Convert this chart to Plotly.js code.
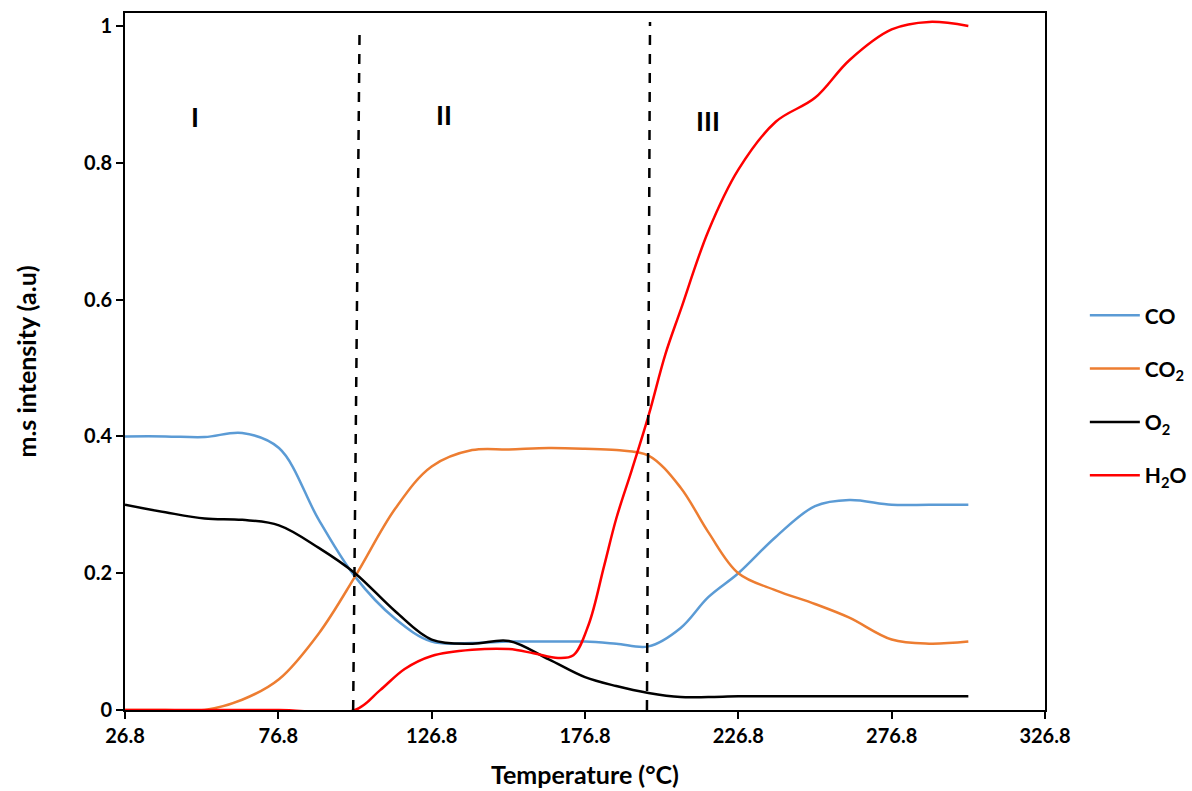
<!DOCTYPE html>
<html>
<head>
<meta charset="utf-8">
<script src="https://cdn.plot.ly/plotly-3.0.1.min.js"></script>
<style>html,body{margin:0;padding:0;background:#fff;}#chart{width:1192px;height:791px;}</style>
</head>
<body>
<div id="chart"></div>
<script>
// Temperature (°C) sample positions
const temps = [26.8, 40, 52.8, 65, 77, 90, 101.8, 115, 126.8, 140, 152, 165, 176.8, 187, 197.5, 208, 217, 226.8, 239, 251.8, 263, 276.8, 289, 301.8];
const coVals  = [0.400, 0.400, 0.399, 0.405, 0.383, 0.278, 0.195, 0.133, 0.100, 0.098, 0.100, 0.100, 0.100, 0.097, 0.093, 0.120, 0.165, 0.200, 0.253, 0.298, 0.307, 0.300, 0.300, 0.300];
const co2Vals = [0, 0, 0, 0.015, 0.045, 0.112, 0.195, 0.295, 0.356, 0.380, 0.381, 0.383, 0.382, 0.380, 0.372, 0.325, 0.260, 0.200, 0.175, 0.155, 0.135, 0.103, 0.097, 0.100];
const o2Vals  = [0.300, 0.289, 0.280, 0.278, 0.270, 0.237, 0.200, 0.144, 0.103, 0.097, 0.101, 0.074, 0.048, 0.035, 0.025, 0.019, 0.019, 0.020, 0.020, 0.020, 0.020, 0.020, 0.020, 0.020];
// H2O sampled more densely around its sharp rise
const h2oTemps = [26.8, 52.8, 77, 101.8, 110, 118, 126.8, 140, 152, 160, 168, 173, 178, 183, 187, 192, 197.5, 203, 208, 217, 226.8, 239, 251.8, 263, 276.8, 289, 301.8];
const h2oVals  = [0, 0, 0, 0, 0.029, 0.060, 0.079, 0.088, 0.089, 0.083, 0.076, 0.080, 0.125, 0.210, 0.280, 0.350, 0.430, 0.520, 0.585, 0.700, 0.790, 0.860, 0.895, 0.950, 0.995, 1.006, 1.000];
// Region boundary lines (temperature at bottom/top, intensity)
const bound1T = [101.2, 103.3];
const bound1Y = [0, 1.0];
const bound2T = [197.0, 198.0];
const bound2Y = [0, 1.006];
// Region labels
const regionText = ['I', 'II', 'III'];
const regionT = [49.6, 130.8, 216.9];
const regionY = [0.867, 0.870, 0.862];
// Axis ticks
const xTickVals = [26.8, 76.8, 126.8, 176.8, 226.8, 276.8, 326.8];
const xTickText = ['26.8', '76.8', '126.8', '176.8', '226.8', '276.8', '326.8'];
const yTickVals = [0, 0.2, 0.4, 0.6, 0.8, 1];
const yTickText = ['0', '0.2', '0.4', '0.6', '0.8', '1'];

const FONT = 'Lato, "Open Sans", sans-serif';
const lw = 2.5;

function series(x, y, name, color, group) {
  return {x: x, y: y, name: name, type: 'scatter', mode: 'lines',
    line: {color: color, width: lw, shape: 'spline', smoothing: 1},
    legendgroup: group, hoverinfo: 'skip'};
}

const data = [
  series(temps, coVals, 'CO', '#5B9BD5', 'g1'),
  series(temps, co2Vals, 'CO<sub>2</sub>', '#ED7D31', 'g2'),
  series(temps, o2Vals, 'O<sub>2</sub>', '#000000', 'g3'),
  series(h2oTemps, h2oVals, 'H<sub>2</sub>O', '#FF0000', 'g4'),
  {x: bound1T, y: bound1Y, type: 'scatter', mode: 'lines', showlegend: false, hoverinfo: 'skip',
    line: {color: '#000', width: 2.5, dash: '10px,9px'}},
  {x: bound2T, y: bound2Y, type: 'scatter', mode: 'lines', showlegend: false, hoverinfo: 'skip',
    line: {color: '#000', width: 2.5, dash: '10px,9px'}}
];

const annotations = regionText.map((t, i) => ({
  x: regionT[i], y: regionY[i], xref: 'x', yref: 'y', text: t, showarrow: false,
  font: {family: FONT, size: 27, color: '#000', weight: 'bold'}
}));

const layout = {
  width: 1192, height: 791,
  margin: {l: 125, r: 147, t: 13, b: 81, autoexpand: false},
  paper_bgcolor: '#fff', plot_bgcolor: '#fff',
  font: {family: FONT, color: '#000'},
  showlegend: true,
  legend: {x: 1.0433, y: 0.451, xanchor: 'left', yanchor: 'middle',
    font: {family: FONT, size: 21, color: '#000', weight: 'bold'},
    tracegroupgap: 23, itemwidth: 50, bgcolor: 'rgba(0,0,0,0)'},
  xaxis: {
    range: [26.8, 326.8], tickvals: xTickVals, ticktext: xTickText,
    ticks: 'outside', ticklen: 7, tickwidth: 2, tickcolor: '#000',
    showline: true, linewidth: 2, linecolor: '#000', mirror: true,
    showgrid: false, zeroline: false,
    tickfont: {family: FONT, size: 20, color: '#000', weight: 'bold'},
    title: {text: 'Temperature (°C)', font: {family: FONT, size: 25, color: '#000', weight: 'bold'}, standoff: 20}
  },
  yaxis: {
    range: [0, 1.019], tickvals: yTickVals, ticktext: yTickText,
    ticks: 'outside', ticklen: 7, tickwidth: 2, tickcolor: '#000',
    showline: true, linewidth: 2, linecolor: '#000', mirror: true,
    showgrid: false, zeroline: false,
    tickfont: {family: FONT, size: 20, color: '#000', weight: 'bold'},
    title: {text: 'm.s intensity (a.u)', font: {family: FONT, size: 25, color: '#000', weight: 'bold'}, standoff: 40}
  },
  annotations: annotations
};

Plotly.newPlot('chart', data, layout, {displayModeBar: false, staticPlot: true});
</script>
</body>
</html>
